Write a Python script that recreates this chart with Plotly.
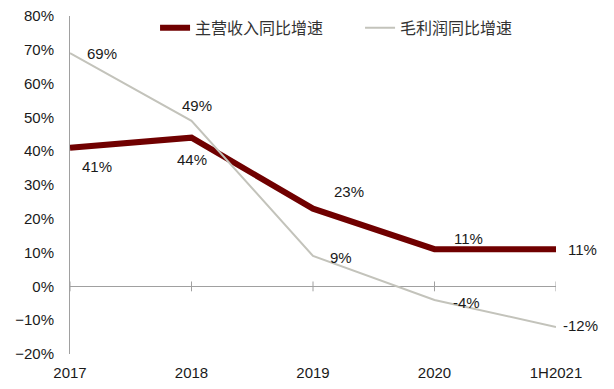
import plotly.graph_objects as go

categories = ["2017", "2018", "2019", "2020", "1H2021"]
revenue_growth = [41, 44, 23, 11, 11]
gross_profit_growth = [69, 49, 9, -4, -12]
revenue_name = "主营收入同比增速"
gross_name = "毛利润同比增速"

# label offsets (px): (xshift, yshift)
rev_offsets = [(27, -19), (0, -22), (36, 17), (34, 11), (26, 0)]
gross_offsets = [(32, 0), (5, 15), (28, -2), (32, -3), (24, 1)]

x = list(range(len(categories)))
fig = go.Figure()
fig.add_trace(go.Scatter(x=x, y=[0]*len(x), mode="markers", showlegend=False, hoverinfo="skip",
                         marker=dict(symbol="line-ns", size=7, line=dict(color="#a0a0a0", width=1))))
fig.add_trace(go.Scatter(x=x, y=revenue_growth, mode="lines", name=revenue_name,
                         line=dict(color="#700000", width=6)))
fig.add_trace(go.Scatter(x=x, y=gross_profit_growth, mode="lines", name=gross_name,
                         line=dict(color="#c3c3bb", width=2)))

annotations = []
for xi, v, (dx, dy) in zip(x, revenue_growth, rev_offsets):
    annotations.append(dict(x=xi, y=v, text=f"{v}%", showarrow=False, xshift=dx, yshift=dy,
                            font=dict(size=15, color="#1a1a1a", family="Liberation Sans, Arial")))
for xi, v, (dx, dy) in zip(x, gross_profit_growth, gross_offsets):
    annotations.append(dict(x=xi, y=v, text=f"{v}%", showarrow=False, xshift=dx, yshift=dy,
                            font=dict(size=15, color="#1a1a1a", family="Liberation Sans, Arial")))

fig.update_layout(
    width=614, height=389,
    margin=dict(l=62, r=66, t=8, b=43, autoexpand=False),
    paper_bgcolor="white", plot_bgcolor="white",
    font=dict(family="Liberation Sans, Arial", size=15, color="#1a1a1a"),
    xaxis=dict(range=[0, 4], tickvals=x, ticktext=categories, showgrid=False, zeroline=False,
               showline=False, ticks="outside", ticklen=5, tickcolor="rgba(0,0,0,0)",
               tickfont=dict(size=15), automargin=False, ticklabeloverflow="allow"),
    yaxis=dict(range=[-20, 80], dtick=10, ticksuffix="%", showgrid=False, zeroline=True,
               zerolinecolor="#a0a0a0", zerolinewidth=1, showline=True, linecolor="#a0a0a0",
               linewidth=1, ticks="outside", ticklen=12, tickcolor="rgba(0,0,0,0)",
               tickfont=dict(size=15), automargin=False, ticklabeloverflow="allow"),
    legend=dict(orientation="h", x=0.175, y=0.965, xanchor="left", yanchor="middle",
                entrywidth=160, entrywidthmode="pixels",
                font=dict(size=16, family="Noto Sans CJK SC", color="#333333"),
                bgcolor="rgba(0,0,0,0)"),
    annotations=annotations,
)
fig.write_html("out.html")
